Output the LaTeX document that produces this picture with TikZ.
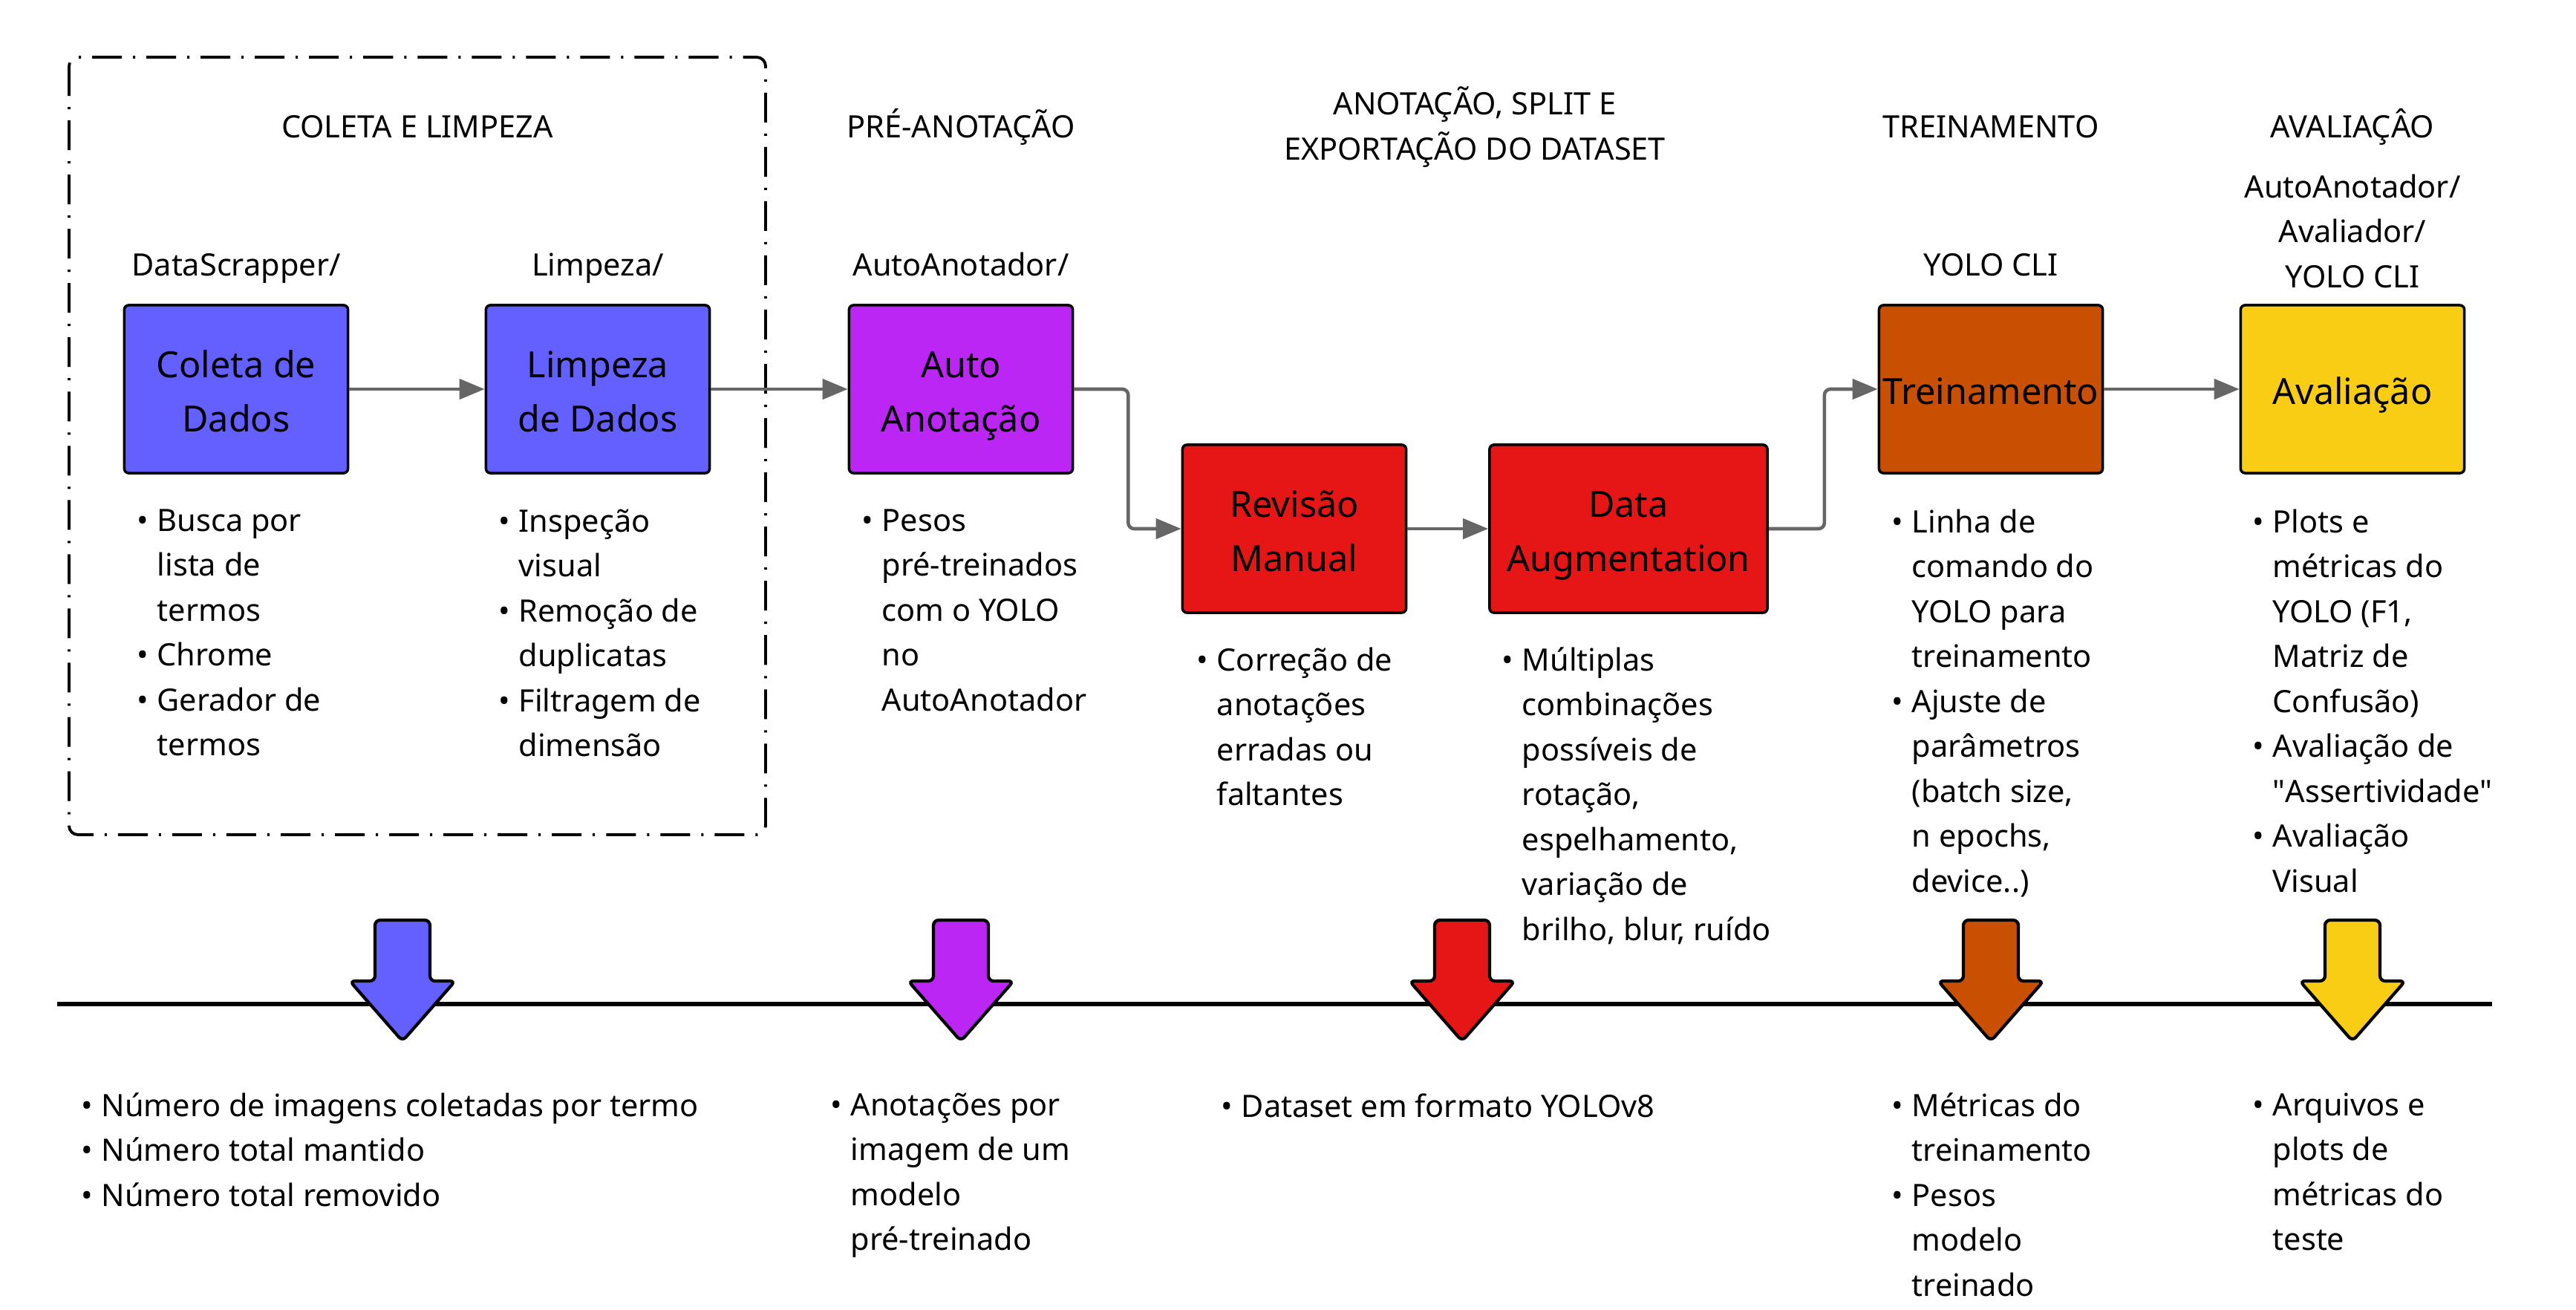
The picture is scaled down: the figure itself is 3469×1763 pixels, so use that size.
\documentclass[tikz,border=0pt]{standalone}
\usepackage{fontspec}
\setmainfont{Noto Sans}
\usepackage{tikz}
\usetikzlibrary{arrows.meta}
\usetikzlibrary{positioning}

\definecolor{cblue}{RGB}{99,96,255}
\definecolor{cpurple}{RGB}{187,38,245}
\definecolor{cred}{RGB}{231,22,22}
\definecolor{corange}{RGB}{201,80,2}
\definecolor{cyellow}{RGB}{250,205,21}
\definecolor{cconn}{RGB}{102,102,102}

\newcommand{\itemdot}{\makebox[0.27cm][l]{•}}
\newcommand{\itemgap}{\hspace*{0.27cm}}

\tikzset{
  stage/.style={draw=black, line width=1pt, rounded corners=0.06cm,
    minimum width=3.01cm, minimum height=2.26cm, inner sep=0pt,
    align=center, font=\fontsize{13.8}{21}\selectfont,
    text height=15.5pt, text depth=3.6pt},
  twoline/.style={text height=36.5pt},
  lbl/.style={anchor=north, align=center, inner sep=0pt,
    font=\fontsize{11.8}{17.2}\selectfont,
    execute at begin node=\rule{0pt}{12pt}},
  lst/.style={anchor=north west, align=left, inner sep=0pt,
    font=\fontsize{11.8}{17.2}\selectfont,
    execute at begin node=\rule{0pt}{12pt}},
  conn/.style={draw=cconn, line width=1.3pt, rounded corners=0.08cm,
    -{Triangle[length=0.34cm,width=0.27cm]}},
  dashbox/.style={draw=black, line width=1.1pt, rounded corners=0.12cm,
    dash pattern=on 0.4cm off 0.15cm on 0.03cm off 0.15cm}
}

\begin{document}
\begin{tikzpicture}[x=0.01cm, y=-0.01cm]
\useasboundingbox[fill=white] (0,0) rectangle (3469,1763);

\draw[dashbox] (93,77) rectangle (1031,1124);

\node[lbl] (t1) at (562,143) {COLETA E LIMPEZA};
\node[lbl] (t2) at (1294,143) {PRÉ-ANOTAÇÃO};
\node[lbl] (t3) at (1986,116) {ANOTAÇÃO, SPLIT E\\EXPORTAÇÃO DO DATASET};
\node[lbl] (t4) at (2681,143) {TREINAMENTO};
\node[lbl] (t5) at (3168,143) {AVALIAÇÂO};

\node[lbl] (s1) at (318,329) {DataScrapper/};
\node[lbl] (s2) at (805,329) {Limpeza/};
\node[lbl] (s3) at (1294,329) {AutoAnotador/};
\node[lbl] (s4) at (2681,329) {YOLO CLI};
\node[lbl] (s5) at (3168,234) {AutoAnotador/\\Avaliador/\\YOLO CLI};

\node[stage, twoline, fill=cblue] (col) at (318,524) {Coleta de\\Dados};
\node[stage, twoline, fill=cblue] (lim) at (805,524) {Limpeza\\de Dados};
\node[stage, twoline, fill=cpurple] (aut) at (1294,524) {Auto\\Anotação};
\node[stage, twoline, fill=cred] (rev) at (1743,712) {Revisão\\Manual};
\node[stage, twoline, fill=cred, minimum width=3.74cm] (aug) at (2193,712) {Data\\Augmentation};
\node[stage, fill=corange] (tre) at (2681,524) {Treinamento};
\node[stage, fill=cyellow] (ava) at (3168,524) {Avaliação};

\draw[conn] (col.east) -- (lim.west);
\draw[conn] (lim.east) -- (aut.west);
\draw[conn] (aut.east) -- ++(73,0) |- (rev.west);
\draw[conn] (rev.east) -- (aug.west);
\draw[conn] (aug.east) -- ++(75,0) |- (tre.west);
\draw[conn] (tre.east) -- (ava.west);

\node[lst] (l1) at (184,685) {\itemdot Busca por\\\itemgap lista de\\\itemgap termos\\\itemdot Chrome\\\itemdot Gerador de\\\itemgap termos};
\node[lst] (l2) at (671,685) {\itemdot Inspeção\\\itemgap visual\\\itemdot Remoção de\\\itemgap duplicatas\\\itemdot Filtragem de\\\itemgap dimensão};
\node[lst] (l3) at (1160,685) {\itemdot Pesos\\\itemgap pré-treinados\\\itemgap com o YOLO\\\itemgap no\\\itemgap AutoAnotador};
\node[lst] (l4) at (1611,871) {\itemdot Correção de\\\itemgap anotações\\\itemgap erradas ou\\\itemgap faltantes};
\node[lst] (l5) at (2022,871) {\itemdot Múltiplas\\\itemgap combinações\\\itemgap possíveis de\\\itemgap rotação,\\\itemgap espelhamento,\\\itemgap variação de\\\itemgap brilho, blur, ruído};
\node[lst] (l6) at (2547,685) {\itemdot Linha de\\\itemgap comando do\\\itemgap YOLO para\\\itemgap treinamento\\\itemdot Ajuste de\\\itemgap parâmetros\\\itemgap (batch size,\\\itemgap n epochs,\\\itemgap device..)};
\node[lst] (l7) at (3033,685) {\itemdot Plots e\\\itemgap métricas do\\\itemgap YOLO (F1,\\\itemgap Matriz de\\\itemgap Confusão)\\\itemdot Avaliação de\\\itemgap \textquotedbl Assertividade\textquotedbl\\\itemdot Avaliação\\\itemgap Visual};

\draw[line width=1.7pt] (77,1352) -- (3356,1352);
\foreach \c/\clr in {542/cblue, 1294/cpurple, 1969/cred, 2681/corange, 3168/cyellow}
  \draw[fill=\clr, line width=1.2pt, rounded corners=0.07cm]
    (\c-37,1239) -- (\c+37,1239) -- (\c+37,1321) -- (\c+71,1321)
    -- (\c,1402) -- (\c-71,1321) -- (\c-37,1321) -- cycle;

\node[lst] (b1) at (109,1471) {\itemdot Número de imagens coletadas por termo\\\itemdot Número total mantido\\\itemdot Número total removido};
\node[lst] (b2) at (1118,1471) {\itemdot Anotações por\\\itemgap imagem de um\\\itemgap modelo\\\itemgap pré-treinado};
\node[lst] (b3) at (1644,1462) {\itemdot Dataset em formato YOLOv8};
\node[lst] (b4) at (2547,1471) {\itemdot Métricas do\\\itemgap treinamento\\\itemdot Pesos\\\itemgap modelo\\\itemgap treinado};
\node[lst] (b5) at (3033,1471) {\itemdot Arquivos e\\\itemgap plots de\\\itemgap métricas do\\\itemgap teste};
\end{tikzpicture}
\end{document}
